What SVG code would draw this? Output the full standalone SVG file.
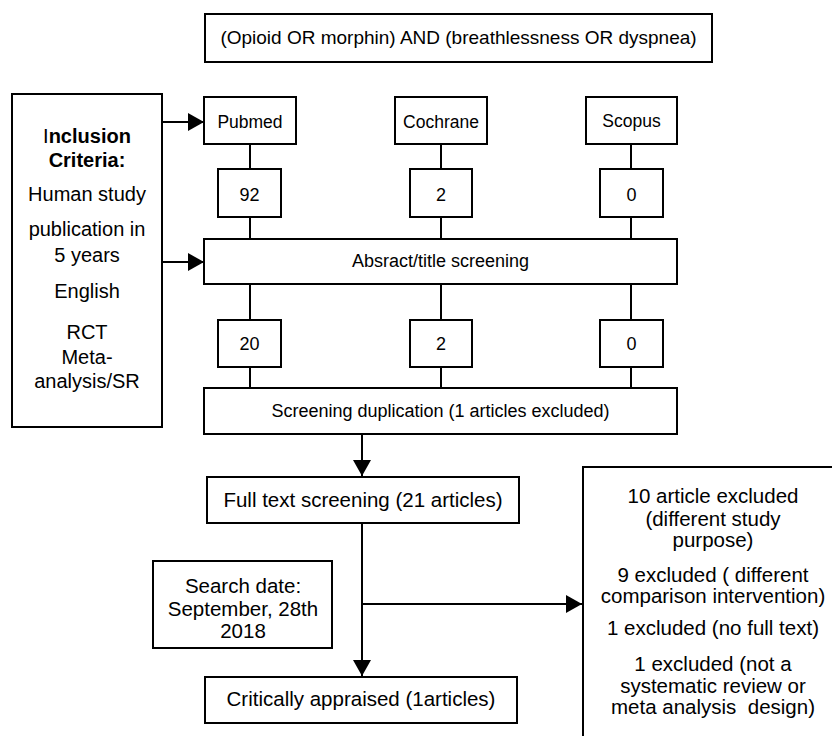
<svg xmlns="http://www.w3.org/2000/svg" width="832" height="736" viewBox="0 0 832 736">
<defs>
<style>
.box{fill:#fff;stroke:#000;stroke-width:2}
.ln{fill:none;stroke:#000;stroke-width:2}
text{font-family:"Liberation Sans",Arial,sans-serif;fill:#000;text-anchor:middle}
.f17{font-size:17.5px}
.f18{font-size:18px}
.f19{font-size:19px}
.f20{font-size:20px}
.f205{font-size:20.5px}
.b{font-weight:bold}
</style>
<marker id="ah" markerUnits="userSpaceOnUse" markerWidth="16" markerHeight="18" refX="16" refY="9" orient="auto">
<path d="M0,0 L16,9 L0,18 z" fill="#000"/>
</marker>
</defs>
<rect width="832" height="736" fill="#fff"/>

<g id="connectors">
<line class="ln" x1="162" y1="122" x2="204" y2="122" marker-end="url(#ah)"/>
<line class="ln" x1="162" y1="262" x2="204" y2="262" marker-end="url(#ah)"/>
<line class="ln" x1="250" y1="144" x2="250" y2="169"/>
<line class="ln" x1="250" y1="217" x2="250" y2="239"/>
<line class="ln" x1="441" y1="144" x2="441" y2="169"/>
<line class="ln" x1="441" y1="217" x2="441" y2="239"/>
<line class="ln" x1="631" y1="144" x2="631" y2="169"/>
<line class="ln" x1="631" y1="217" x2="631" y2="239"/>
<line class="ln" x1="250" y1="284" x2="250" y2="320"/>
<line class="ln" x1="250" y1="367" x2="250" y2="388"/>
<line class="ln" x1="441" y1="284" x2="441" y2="320"/>
<line class="ln" x1="441" y1="367" x2="441" y2="388"/>
<line class="ln" x1="631" y1="284" x2="631" y2="320"/>
<line class="ln" x1="631" y1="367" x2="631" y2="388"/>
<line class="ln" x1="362" y1="434" x2="362" y2="476" marker-end="url(#ah)"/>
<line class="ln" x1="362" y1="523" x2="362" y2="676" marker-end="url(#ah)"/>
<line class="ln" x1="362" y1="604" x2="582" y2="604" marker-end="url(#ah)"/>
</g>

<g id="query">
<rect class="box" x="205" y="14" width="507" height="48"/>
<text class="f19" x="458.5" y="44">(Opioid OR morphin) AND (breathlessness OR dyspnea)</text>
</g>

<g id="criteria">
<rect class="box" x="12" y="94" width="150" height="333"/>
<text class="f20" x="87" y="143"><tspan>I</tspan><tspan class="b">nclusion</tspan></text>
<text class="f20 b" x="87" y="167">Criteria:</text>
<text class="f20" x="87" y="201">Human study</text>
<text class="f20" x="87" y="236">publication in</text>
<text class="f20" x="87" y="262">5 years</text>
<text class="f20" x="87" y="298">English</text>
<text class="f20" x="87" y="339">RCT</text>
<text class="f20" x="87" y="364">Meta-</text>
<text class="f20" x="87" y="388">analysis/SR</text>
</g>

<g id="pubmed">
<rect class="box" x="204" y="97" width="92" height="47"/>
<text class="f17" x="250" y="128">Pubmed</text>
</g>
<g id="cochrane">
<rect class="box" x="395" y="97" width="92" height="47"/>
<text class="f17" x="441" y="128">Cochrane</text>
</g>
<g id="scopus">
<rect class="box" x="586" y="97" width="91" height="47"/>
<text class="f17" x="631.5" y="127">Scopus</text>
</g>

<g id="n92">
<rect class="box" x="218" y="169" width="63" height="48"/>
<text class="f18" x="249.5" y="201">92</text>
</g>
<g id="n2a">
<rect class="box" x="410" y="169" width="62" height="48"/>
<text class="f18" x="441" y="201">2</text>
</g>
<g id="n0a">
<rect class="box" x="600" y="169" width="63" height="48"/>
<text class="f18" x="631.5" y="201">0</text>
</g>

<g id="abstract">
<rect class="box" x="204" y="239" width="473" height="45"/>
<text class="f18" x="440.5" y="267">Absract/title screening</text>
</g>

<g id="n20">
<rect class="box" x="218" y="320" width="63" height="47"/>
<text class="f18" x="249.5" y="350">20</text>
</g>
<g id="n2b">
<rect class="box" x="410" y="320" width="62" height="47"/>
<text class="f18" x="441" y="350">2</text>
</g>
<g id="n0b">
<rect class="box" x="600" y="320" width="63" height="47"/>
<text class="f18" x="631.5" y="350">0</text>
</g>

<g id="duplication">
<rect class="box" x="204" y="388" width="473" height="46"/>
<text class="f18" x="440.5" y="417">Screening duplication (1 articles excluded)</text>
</g>

<g id="fulltext">
<rect class="box" x="207" y="477" width="312" height="46"/>
<text class="f205" x="363" y="507">Full text screening (21 articles)</text>
</g>

<g id="searchdate">
<rect class="box" x="153" y="561" width="179" height="87"/>
<text class="f205" x="243" y="593">Search date:</text>
<text class="f205" x="243" y="616">September, 28th</text>
<text class="f205" x="243" y="638">2018</text>
</g>

<g id="critical">
<rect class="box" x="205" y="677" width="312" height="46"/>
<text class="f205" x="361" y="706">Critically appraised (1articles)</text>
</g>

<g id="excluded">
<rect class="box" x="583" y="467" width="260" height="280"/>
<text class="f205" x="713" y="503">10 article excluded</text>
<text class="f205" x="713" y="526">(different study</text>
<text class="f205" x="713" y="547">purpose)</text>
<text class="f205" x="713" y="582">9 excluded ( different</text>
<text class="f205" x="713" y="603">comparison intervention)</text>
<text class="f205" x="713" y="635">1 excluded (no full text)</text>
<text class="f205" x="713" y="671">1 excluded (not a</text>
<text class="f205" x="713" y="693">systematic review or</text>
<text class="f205" x="713" y="714" xml:space="preserve">meta analysis  design)</text>
</g>
</svg>
